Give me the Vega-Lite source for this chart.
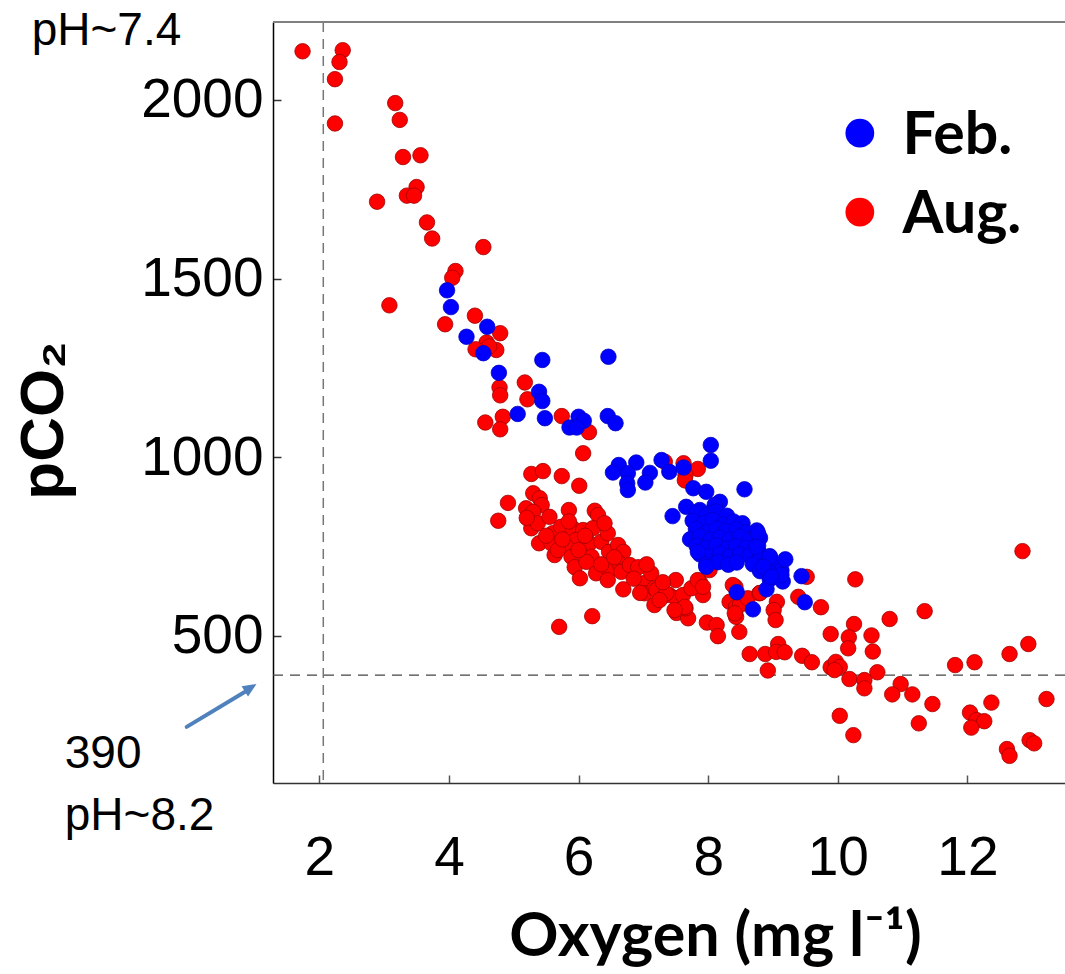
{
  "$schema": "https://vega.github.io/schema/vega-lite/v6.json",
  "width": 792,
  "height": 761,
  "autosize": {"type": "none"},
  "padding": {"left": 273, "top": 22, "right": 0, "bottom": 191},
  "background": "white",
  "config": {"view": {"stroke": null}},
  "datasets": {
    "pts": [
      {"o":1.74,"p":2136,"m":"Aug."},{"o":2.36,"p":2139,"m":"Aug."},{"o":2.31,"p":2106,"m":"Aug."},{"o":2.24,"p":2058,"m":"Aug."},
      {"o":3.17,"p":1991,"m":"Aug."},{"o":2.24,"p":1934,"m":"Aug."},{"o":3.24,"p":1944,"m":"Aug."},{"o":3.29,"p":1840,"m":"Aug."},
      {"o":3.56,"p":1845,"m":"Aug."},{"o":3.50,"p":1756,"m":"Aug."},{"o":3.35,"p":1732,"m":"Aug."},{"o":3.46,"p":1732,"m":"Aug."},
      {"o":2.89,"p":1715,"m":"Aug."},{"o":3.66,"p":1657,"m":"Aug."},{"o":3.74,"p":1612,"m":"Aug."},{"o":4.53,"p":1588,"m":"Aug."},
      {"o":4.10,"p":1521,"m":"Aug."},{"o":4.05,"p":1502,"m":"Aug."},{"o":3.08,"p":1425,"m":"Aug."},{"o":4.40,"p":1396,"m":"Aug."},
      {"o":3.94,"p":1372,"m":"Aug."},{"o":4.79,"p":1347,"m":"Aug."},{"o":4.58,"p":1321,"m":"Aug."},{"o":4.41,"p":1302,"m":"Aug."},
      {"o":4.73,"p":1300,"m":"Aug."},{"o":4.62,"p":1310,"m":"Aug."},
      {"o":5.17,"p":1209,"m":"Aug."},{"o":4.78,"p":1195,"m":"Aug."},{"o":4.79,"p":1173,"m":"Aug."},{"o":5.21,"p":1162,"m":"Aug."},
      {"o":4.56,"p":1097,"m":"Aug."},{"o":4.83,"p":1113,"m":"Aug."},{"o":4.79,"p":1078,"m":"Aug."},{"o":5.74,"p":1115,"m":"Aug."},
      {"o":6.16,"p":1070,"m":"Aug."},{"o":6.07,"p":1011,"m":"Aug."},{"o":5.27,"p":953,"m":"Aug."},{"o":5.45,"p":961,"m":"Aug."},
      {"o":5.74,"p":947,"m":"Aug."},{"o":6.01,"p":920,"m":"Aug."},{"o":7.33,"p":987,"m":"Aug."},{"o":7.62,"p":983,"m":"Aug."},
      {"o":7.84,"p":967,"m":"Aug."},{"o":7.65,"p":950,"m":"Aug."},{"o":7.64,"p":935,"m":"Aug."},
      {"o":4.76,"p":822,"m":"Aug."},{"o":4.91,"p":872,"m":"Aug."},{"o":5.19,"p":857,"m":"Aug."},{"o":5.30,"p":899,"m":"Aug."},
      {"o":5.40,"p":885,"m":"Aug."},{"o":5.43,"p":866,"m":"Aug."},{"o":5.30,"p":847,"m":"Aug."},{"o":5.27,"p":801,"m":"Aug."},
      {"o":5.37,"p":815,"m":"Aug."},{"o":5.39,"p":759,"m":"Aug."},{"o":5.55,"p":833,"m":"Aug."},{"o":5.85,"p":852,"m":"Aug."},
      {"o":6.25,"p":850,"m":"Aug."},{"o":6.30,"p":838,"m":"Aug."},{"o":5.60,"p":787,"m":"Aug."},{"o":5.73,"p":805,"m":"Aug."},
      {"o":5.58,"p":759,"m":"Aug."},{"o":5.63,"p":726,"m":"Aug."},{"o":5.91,"p":801,"m":"Aug."},{"o":6.07,"p":796,"m":"Aug."},
      {"o":6.22,"p":801,"m":"Aug."},{"o":5.96,"p":768,"m":"Aug."},{"o":5.81,"p":749,"m":"Aug."},{"o":5.68,"p":740,"m":"Aug."},
      {"o":5.89,"p":721,"m":"Aug."},{"o":5.94,"p":692,"m":"Aug."},{"o":6.02,"p":661,"m":"Aug."},{"o":6.17,"p":759,"m":"Aug."},
      {"o":6.20,"p":721,"m":"Aug."},{"o":6.12,"p":707,"m":"Aug."},{"o":6.35,"p":763,"m":"Aug."},{"o":6.45,"p":787,"m":"Aug."},
      {"o":6.47,"p":735,"m":"Aug."},{"o":6.61,"p":754,"m":"Aug."},{"o":6.69,"p":735,"m":"Aug."},{"o":6.27,"p":675,"m":"Aug."},
      {"o":6.47,"p":684,"m":"Aug."},{"o":6.45,"p":656,"m":"Aug."},{"o":6.63,"p":703,"m":"Aug."},{"o":6.66,"p":679,"m":"Aug."},
      {"o":6.69,"p":630,"m":"Aug."},{"o":6.79,"p":698,"m":"Aug."},{"o":6.92,"p":692,"m":"Aug."},{"o":7.00,"p":647,"m":"Aug."},
      {"o":7.12,"p":675,"m":"Aug."},{"o":7.02,"p":619,"m":"Aug."},{"o":7.17,"p":633,"m":"Aug."},{"o":7.17,"p":586,"m":"Aug."},
      {"o":7.20,"p":628,"m":"Aug."},{"o":7.50,"p":656,"m":"Aug."},{"o":7.40,"p":614,"m":"Aug."},{"o":7.51,"p":605,"m":"Aug."},
      {"o":7.61,"p":614,"m":"Aug."},{"o":7.51,"p":564,"m":"Aug."},{"o":7.69,"p":549,"m":"Aug."},{"o":7.65,"p":577,"m":"Aug."},
      {"o":7.87,"p":651,"m":"Aug."},{"o":7.92,"p":614,"m":"Aug."},{"o":7.74,"p":633,"m":"Aug."},{"o":7.98,"p":537,"m":"Aug."},
      {"o":8.13,"p":530,"m":"Aug."},{"o":8.15,"p":499,"m":"Aug."},{"o":8.42,"p":637,"m":"Aug."},{"o":8.33,"p":595,"m":"Aug."},
      {"o":8.43,"p":581,"m":"Aug."},{"o":8.43,"p":553,"m":"Aug."},{"o":8.48,"p":511,"m":"Aug."},{"o":5.70,"p":525,"m":"Aug."},
      {"o":6.21,"p":555,"m":"Aug."},{"o":8.02,"p":684,"m":"Aug."},{"o":7.84,"p":656,"m":"Aug."},{"o":7.92,"p":637,"m":"Aug."},
      {"o":7.35,"p":619,"m":"Aug."},{"o":7.64,"p":581,"m":"Aug."},{"o":7.48,"p":572,"m":"Aug."},{"o":8.49,"p":586,"m":"Aug."},
      {"o":8.41,"p":563,"m":"Aug."},{"o":8.61,"p":605,"m":"Aug."},{"o":8.38,"p":642,"m":"Aug."},{"o":8.79,"p":619,"m":"Aug."},
      {"o":5.50,"p":780,"m":"Aug."},{"o":5.75,"p":770,"m":"Aug."},{"o":6.00,"p":740,"m":"Aug."},{"o":6.10,"p":780,"m":"Aug."},
      {"o":6.35,"p":700,"m":"Aug."},{"o":6.55,"p":720,"m":"Aug."},{"o":5.85,"p":820,"m":"Aug."},{"o":6.40,"p":815,"m":"Aug."},
      {"o":5.20,"p":830,"m":"Aug."},{"o":6.85,"p":660,"m":"Aug."},{"o":7.05,"p":700,"m":"Aug."},{"o":7.30,"p":650,"m":"Aug."},
      {"o":7.25,"p":600,"m":"Aug."},{"o":6.95,"p":620,"m":"Aug."},
      {"o":9.06,"p":595,"m":"Aug."},{"o":9.01,"p":572,"m":"Aug."},{"o":9.04,"p":544,"m":"Aug."},{"o":9.74,"p":580,"m":"Aug."},
      {"o":10.27,"p":658,"m":"Aug."},{"o":12.85,"p":737,"m":"Aug."},{"o":11.34,"p":569,"m":"Aug."},{"o":10.80,"p":547,"m":"Aug."},
      {"o":9.89,"p":505,"m":"Aug."},{"o":10.25,"p":533,"m":"Aug."},{"o":10.17,"p":496,"m":"Aug."},{"o":10.16,"p":465,"m":"Aug."},
      {"o":10.52,"p":501,"m":"Aug."},{"o":10.54,"p":456,"m":"Aug."},{"o":10.61,"p":398,"m":"Aug."},{"o":12.94,"p":477,"m":"Aug."},
      {"o":12.65,"p":449,"m":"Aug."},{"o":12.11,"p":426,"m":"Aug."},{"o":11.81,"p":418,"m":"Aug."},{"o":8.64,"p":449,"m":"Aug."},
      {"o":8.88,"p":449,"m":"Aug."},{"o":9.08,"p":477,"m":"Aug."},{"o":9.05,"p":455,"m":"Aug."},{"o":9.18,"p":454,"m":"Aug."},
      {"o":9.45,"p":444,"m":"Aug."},{"o":9.60,"p":426,"m":"Aug."},{"o":8.92,"p":403,"m":"Aug."},{"o":9.89,"p":412,"m":"Aug."},
      {"o":9.97,"p":427,"m":"Aug."},{"o":10.03,"p":413,"m":"Aug."},{"o":9.95,"p":404,"m":"Aug."},{"o":10.18,"p":379,"m":"Aug."},
      {"o":10.41,"p":376,"m":"Aug."},{"o":10.41,"p":353,"m":"Aug."},{"o":10.97,"p":365,"m":"Aug."},{"o":10.84,"p":336,"m":"Aug."},
      {"o":11.15,"p":336,"m":"Aug."},{"o":11.46,"p":309,"m":"Aug."},{"o":10.03,"p":276,"m":"Aug."},{"o":10.24,"p":222,"m":"Aug."},
      {"o":11.25,"p":255,"m":"Aug."},{"o":12.04,"p":285,"m":"Aug."},{"o":12.14,"p":264,"m":"Aug."},{"o":12.26,"p":261,"m":"Aug."},
      {"o":12.06,"p":243,"m":"Aug."},{"o":12.37,"p":313,"m":"Aug."},{"o":13.22,"p":323,"m":"Aug."},{"o":12.61,"p":183,"m":"Aug."},
      {"o":12.65,"p":164,"m":"Aug."},{"o":12.96,"p":208,"m":"Aug."},{"o":13.03,"p":199,"m":"Aug."},{"o":8.80,"p":620,"m":"Aug."},
      {"o":9.39,"p":609,"m":"Aug."},{"o":9.52,"p":665,"m":"Aug."},
      {"o":3.97,"p":1467,"m":"Feb."},{"o":4.03,"p":1420,"m":"Feb."},{"o":4.59,"p":1365,"m":"Feb."},{"o":4.27,"p":1337,"m":"Feb."},
      {"o":4.53,"p":1291,"m":"Feb."},{"o":5.44,"p":1272,"m":"Feb."},{"o":6.46,"p":1281,"m":"Feb."},{"o":4.77,"p":1236,"m":"Feb."},
      {"o":5.39,"p":1183,"m":"Feb."},{"o":5.44,"p":1157,"m":"Feb."},{"o":5.06,"p":1121,"m":"Feb."},{"o":5.48,"p":1109,"m":"Feb."},
      {"o":6.00,"p":1113,"m":"Feb."},{"o":6.08,"p":1102,"m":"Feb."},{"o":5.86,"p":1083,"m":"Feb."},{"o":5.97,"p":1083,"m":"Feb."},
      {"o":6.45,"p":1115,"m":"Feb."},{"o":6.57,"p":1095,"m":"Feb."},{"o":6.62,"p":978,"m":"Feb."},{"o":6.89,"p":985,"m":"Feb."},
      {"o":6.53,"p":957,"m":"Feb."},{"o":6.76,"p":955,"m":"Feb."},{"o":7.10,"p":956,"m":"Feb."},{"o":7.03,"p":929,"m":"Feb."},
      {"o":7.28,"p":992,"m":"Feb."},{"o":7.40,"p":959,"m":"Feb."},{"o":6.75,"p":927,"m":"Feb."},{"o":6.76,"p":908,"m":"Feb."},
      {"o":7.62,"p":971,"m":"Feb."},{"o":8.04,"p":1034,"m":"Feb."},{"o":8.04,"p":990,"m":"Feb."},{"o":7.77,"p":913,"m":"Feb."},
      {"o":7.97,"p":903,"m":"Feb."},{"o":8.56,"p":910,"m":"Feb."},{"o":7.66,"p":861,"m":"Feb."},{"o":7.45,"p":835,"m":"Feb."},
      {"o":8.18,"p":875,"m":"Feb."},{"o":8.10,"p":866,"m":"Feb."},{"o":7.87,"p":852,"m":"Feb."},{"o":8.02,"p":843,"m":"Feb."},
      {"o":7.82,"p":845,"m":"Feb."},{"o":7.98,"p":838,"m":"Feb."},{"o":8.12,"p":848,"m":"Feb."},{"o":8.29,"p":836,"m":"Feb."},
      {"o":7.76,"p":822,"m":"Feb."},{"o":7.93,"p":815,"m":"Feb."},{"o":8.07,"p":824,"m":"Feb."},{"o":8.23,"p":812,"m":"Feb."},
      {"o":8.39,"p":820,"m":"Feb."},{"o":8.53,"p":815,"m":"Feb."},
      {"o":7.81,"p":799,"m":"Feb."},{"o":7.98,"p":790,"m":"Feb."},{"o":8.13,"p":800,"m":"Feb."},{"o":8.27,"p":793,"m":"Feb."},
      {"o":8.44,"p":798,"m":"Feb."},{"o":8.58,"p":790,"m":"Feb."},{"o":8.75,"p":795,"m":"Feb."},
      {"o":7.72,"p":770,"m":"Feb."},{"o":7.87,"p":778,"m":"Feb."},{"o":8.03,"p":768,"m":"Feb."},{"o":8.18,"p":775,"m":"Feb."},
      {"o":8.33,"p":769,"m":"Feb."},{"o":8.49,"p":777,"m":"Feb."},{"o":8.64,"p":768,"m":"Feb."},{"o":8.80,"p":774,"m":"Feb."},
      {"o":7.82,"p":752,"m":"Feb."},{"o":7.97,"p":745,"m":"Feb."},{"o":8.12,"p":753,"m":"Feb."},{"o":8.29,"p":744,"m":"Feb."},
      {"o":8.43,"p":751,"m":"Feb."},{"o":8.59,"p":746,"m":"Feb."},{"o":8.77,"p":752,"m":"Feb."},
      {"o":7.87,"p":728,"m":"Feb."},{"o":8.02,"p":722,"m":"Feb."},{"o":8.18,"p":730,"m":"Feb."},{"o":8.33,"p":721,"m":"Feb."},
      {"o":8.49,"p":728,"m":"Feb."},{"o":8.64,"p":724,"m":"Feb."},{"o":8.80,"p":729,"m":"Feb."},{"o":8.95,"p":723,"m":"Feb."},
      {"o":7.97,"p":700,"m":"Feb."},{"o":8.15,"p":706,"m":"Feb."},{"o":8.31,"p":699,"m":"Feb."},{"o":8.44,"p":705,"m":"Feb."},
      {"o":8.69,"p":700,"m":"Feb."},{"o":8.90,"p":706,"m":"Feb."},{"o":9.03,"p":699,"m":"Feb."},
      {"o":8.80,"p":681,"m":"Feb."},{"o":8.98,"p":676,"m":"Feb."},{"o":9.13,"p":683,"m":"Feb."},
      {"o":8.95,"p":658,"m":"Feb."},{"o":9.15,"p":652,"m":"Feb."},
      {"o":9.19,"p":714,"m":"Feb."},{"o":9.44,"p":667,"m":"Feb."},{"o":9.49,"p":594,"m":"Feb."},{"o":8.44,"p":622,"m":"Feb."},
      {"o":8.69,"p":574,"m":"Feb."},{"o":8.90,"p":630,"m":"Feb."},{"o":9.13,"p":670,"m":"Feb."},{"o":7.97,"p":693,"m":"Feb."},
      {"o":8.77,"p":787,"m":"Feb."},{"o":8.74,"p":749,"m":"Feb."},{"o":8.95,"p":721,"m":"Feb."},{"o":8.85,"p":693,"m":"Feb."},
      {"o":8.97,"p":665,"m":"Feb."},{"o":7.84,"p":735,"m":"Feb."}
    ]
  },
  "layer": [
    {
      "data": {"values": [{"x": 2.06}]},
      "mark": {"type": "rule", "color": "#777777", "strokeWidth": 1.5, "strokeDash": [10, 7]},
      "encoding": {"x": {"field": "x", "type": "quantitative"}}
    },
    {
      "data": {"values": [{"y": 390}]},
      "mark": {"type": "rule", "color": "#444444", "strokeWidth": 1.3, "strokeDash": [10, 7]},
      "encoding": {"y": {"field": "y", "type": "quantitative"}}
    },
    {
      "data": {"values": [{"y": 2218}]},
      "mark": {"type": "rule", "color": "#808080", "strokeWidth": 2},
      "encoding": {"y": {"field": "y", "type": "quantitative"}}
    },
    {
      "data": {"name": "pts"},
      "mark": {"type": "point", "filled": true, "opacity": 1, "size": 240, "strokeWidth": 0.8},
      "encoding": {
        "x": {"field": "o", "type": "quantitative",
          "scale": {"domain": [1.284, 13.506], "nice": false, "zero": false},
          "axis": {"values": [2, 4, 6, 8, 10, 12], "format": "d", "grid": false, "domainColor": "#333333", "domainWidth": 1.5,
            "tickColor": "#555555", "tickWidth": 1.5, "tickSize": -8, "labelPadding": 56,
            "labelFont": "Liberation Sans", "labelFontSize": 55, "labelColor": "#000000",
            "title": "Oxygen (mg l⁻¹)", "titleFont": "Lato", "titleFontWeight": "bold", "titleFontSize": 61,
            "titleColor": "#000000", "titleX": 442, "titleY": 172, "titleBaseline": "alphabetic", "titleAlign": "center"}},
        "y": {"field": "p", "type": "quantitative",
          "scale": {"domain": [88, 2218], "nice": false, "zero": false},
          "axis": {"values": [500, 1000, 1500, 2000], "format": "d", "grid": false, "domainColor": "#000000", "domainWidth": 1.5,
            "tickColor": "#333333", "tickWidth": 1.5, "tickSize": -8, "labelPadding": 18,
            "labelFont": "Liberation Sans", "labelFontSize": 55, "labelColor": "#000000",
            "title": "pCO₂", "titleFont": "Liberation Sans", "titleFontWeight": "bold", "titleFontSize": 62,
            "titleColor": "#000000", "titleAngle": -90, "titleX": -211, "titleY": 398, "titleBaseline": "alphabetic", "titleAlign": "center"}},
        "color": {"field": "m", "type": "nominal", "scale": {"domain": ["Aug.", "Feb."], "range": ["#ff0000", "#0000ff"]}, "legend": null},
        "stroke": {"field": "m", "type": "nominal", "scale": {"domain": ["Aug.", "Feb."], "range": ["#a00000", "#0000c8"]}, "legend": null}
      }
    },
    {
      "data": {"values": [{"x": 10.34, "y": 1907, "m": "Feb."}, {"x": 10.34, "y": 1686, "m": "Aug."}]},
      "mark": {"type": "point", "filled": true, "opacity": 1, "size": 830},
      "encoding": {
        "x": {"field": "x", "type": "quantitative"},
        "y": {"field": "y", "type": "quantitative"},
        "color": {"field": "m", "type": "nominal", "legend": null}
      }
    },
    {
      "data": {"values": [{"x": 11.0, "y": 1907, "t": "Feb."}, {"x": 11.0, "y": 1686, "t": "Aug."}]},
      "mark": {"type": "text", "align": "left", "baseline": "middle", "font": "Lato", "fontWeight": "bold", "fontSize": 59, "color": "#000000", "dy": 3},
      "encoding": {
        "x": {"field": "x", "type": "quantitative"},
        "y": {"field": "y", "type": "quantitative"},
        "text": {"field": "t"}
      }
    },
    {
      "data": {"values": [{"x": -2.44, "y": 2153, "t": "pH~7.4"}, {"x": -1.93, "y": 130, "t": "390"}, {"x": -1.93, "y": -43, "t": "pH~8.2"}]},
      "mark": {"type": "text", "align": "left", "baseline": "alphabetic", "font": "Liberation Sans", "fontSize": 46, "color": "#000000"},
      "encoding": {
        "x": {"field": "x", "type": "quantitative"},
        "y": {"field": "y", "type": "quantitative"},
        "text": {"field": "t"}
      }
    },
    {
      "data": {"values": [{"x": -0.048, "y": 245, "x2": 0.93, "y2": 352}]},
      "mark": {"type": "rule", "color": "#4f81bd", "strokeWidth": 4, "strokeCap": "round"},
      "encoding": {
        "x": {"field": "x", "type": "quantitative"},
        "y": {"field": "y", "type": "quantitative"},
        "x2": {"field": "x2"},
        "y2": {"field": "y2"}
      }
    },
    {
      "data": {"values": [{"x": 0.923, "y": 353}]},
      "mark": {"type": "point", "shape": "M0,-1 L0.75,0.7 L-0.75,0.7 Z", "filled": true, "color": "#4f81bd", "opacity": 1, "size": 260, "angle": 58},
      "encoding": {
        "x": {"field": "x", "type": "quantitative"},
        "y": {"field": "y", "type": "quantitative"}
      }
    }
  ]
}
